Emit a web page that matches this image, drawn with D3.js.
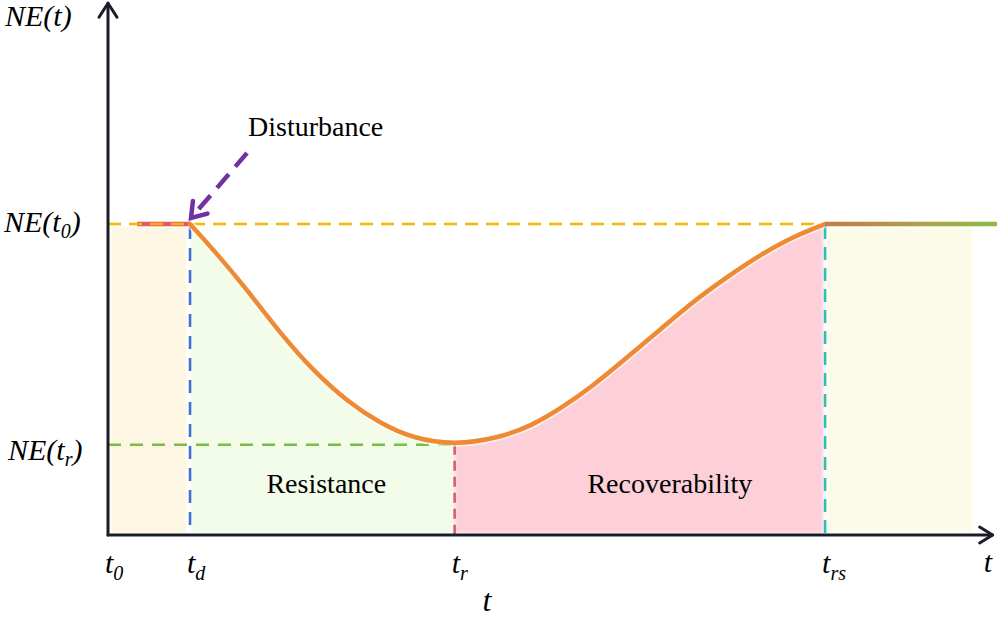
<!DOCTYPE html>
<html>
<head>
<meta charset="utf-8">
<script src="https://cdn.jsdelivr.net/npm/d3@7"></script>
<style>
  @font-face { font-family: "ChartSerif"; src: local("Liberation Serif"), local("LiberationSerif"); font-style: normal; }
  @font-face { font-family: "ChartSerif"; src: local("Liberation Serif Italic"), local("LiberationSerif-Italic"); font-style: italic; }
  svg text, svg tspan { font-family: "Liberation Serif", "ChartSerif", Tinos, serif !important; }
</style>
</head>
<body style="margin:0">
<svg id="chart" width="997" height="627" font-family="Liberation Serif"></svg>
<script>
// ---------------- data ----------------
const tickNames = ["0", "d", "r", "rs"];           // subscripts of t
const tickTimes = [0, 9.3, 39.3, 81.3];             // t0, td, tr, trs
const levelNames = ["0", "r"];                      // NE(t0), NE(tr)
const levelValues = [1.0, 0.29];
const curveT  = [9.3, 12.5, 16.0, 19.5, 23.2, 27.1, 30.8, 34.6, 39.3, 44.0, 48.0, 51.5, 55.0, 58.8, 62.6, 66.3, 70.2, 73.9, 77.7, 81.3];
const curveNE = [1.00, 0.90, 0.78, 0.65, 0.53, 0.43, 0.36, 0.31, 0.29, 0.31, 0.35, 0.41, 0.48, 0.57, 0.66, 0.75, 0.83, 0.90, 0.96, 1.00];
const phaseNames = ["Resistance", "Recoverability"];
const tMax = 100.3, neMax = 1.71;
const FONT = "Liberation Serif";

// ---------------- scales ----------------
const x = d3.scaleLinear().domain([0, 100]).range([108, 990]);
const y = d3.scaleLinear().domain([0, 1]).range([535, 224]);

const svg = d3.select("#chart");
const defs = svg.append("defs");
defs.append("filter").attr("id", "soft")
  .attr("x", "-5%").attr("y", "-5%").attr("width", "110%").attr("height", "110%")
  .append("feGaussianBlur").attr("stdDeviation", 1.6);
const grad = defs.append("linearGradient").attr("id", "tail")
  .attr("gradientUnits", "userSpaceOnUse")
  .attr("x1", x(tickTimes[3])).attr("x2", x(101)).attr("y1", 0).attr("y2", 0);
grad.append("stop").attr("offset", "0%").attr("stop-color", "#c07c4c");
grad.append("stop").attr("offset", "55%").attr("stop-color", "#aea048");
grad.append("stop").attr("offset", "100%").attr("stop-color", "#8bbf3c");

const pts = curveT.map((t, i) => [t, curveNE[i]]);
const line = d3.line().x(d => x(d[0])).y(d => y(d[1])).curve(d3.curveBasis);
const area = d3.area().x(d => x(d[0])).y0(y(0) - 2).y1(d => y(d[1])).curve(d3.curveBasis);

const [t0, td, tr, trs] = tickTimes;
defs.append("clipPath").attr("id", "clipRes").append("rect")
  .attr("x", x(td) + 1).attr("y", 0).attr("width", x(tr) - x(td) - 3).attr("height", 627);
defs.append("clipPath").attr("id", "clipRec").append("rect")
  .attr("x", x(tr)).attr("y", 0).attr("width", x(trs) - x(tr) - 2).attr("height", 627);

// ---------------- shaded regions ----------------
const shade = svg.append("g").attr("filter", "url(#soft)");
shade.append("rect")
  .attr("x", x(0.3)).attr("y", y(1) + 3)
  .attr("width", x(8.9) - x(0.3)).attr("height", y(0) - y(1) - 5)
  .attr("fill", "#fdf6e2");
shade.append("rect")
  .attr("x", x(81.6)).attr("y", y(1) + 4)
  .attr("width", x(98) - x(81.6)).attr("height", y(0) - y(1) - 7)
  .attr("fill", "#fbfbe7");
shade.append("path").datum(pts).attr("d", area)
  .attr("fill", "#f3fbe9").attr("clip-path", "url(#clipRes)");
shade.append("path").datum(pts).attr("d", area)
  .attr("fill", "#fdd0d9").attr("clip-path", "url(#clipRec)");

// ---------------- reference lines ----------------
svg.append("line")
  .attr("x1", x(3.3)).attr("x2", x(td)).attr("y1", y(1)).attr("y2", y(1))
  .attr("stroke", "#e8566c").attr("stroke-width", 4.5);
svg.append("line")
  .attr("x1", x(0)).attr("x2", x(trs)).attr("y1", y(levelValues[0])).attr("y2", y(levelValues[0]))
  .attr("stroke", "#f4b800").attr("stroke-width", 2.6).attr("stroke-dasharray", "13,8");
svg.append("line")
  .attr("x1", x(0)).attr("x2", x(tr)).attr("y1", y(levelValues[1])).attr("y2", y(levelValues[1]))
  .attr("stroke", "#76bf45").attr("stroke-width", 2.6).attr("stroke-dasharray", "13,9");
svg.append("line")
  .attr("x1", x(td)).attr("x2", x(td)).attr("y1", y(1) + 2).attr("y2", y(0))
  .attr("stroke", "#4270cf").attr("stroke-width", 2.6).attr("stroke-dasharray", "13,9");
svg.append("line")
  .attr("x1", x(tr)).attr("x2", x(tr)).attr("y1", y(levelValues[1])).attr("y2", y(0))
  .attr("stroke", "#d95e62").attr("stroke-width", 2.6).attr("stroke-dasharray", "10,6");
svg.append("line")
  .attr("x1", x(trs)).attr("x2", x(trs)).attr("y1", y(1) + 2).attr("y2", y(0))
  .attr("stroke", "#2fbfae").attr("stroke-width", 2.6).attr("stroke-dasharray", "13,8");

// ---------------- curve ----------------
svg.append("path").datum(pts).attr("d", line)
  .attr("fill", "none").attr("stroke", "#ffffff").attr("stroke-opacity", 0.6).attr("stroke-width", 8);
svg.append("path").datum(pts).attr("d", line)
  .attr("fill", "none").attr("stroke", "#ee8a33").attr("stroke-width", 4.5).attr("stroke-linecap", "round");
svg.append("line")
  .attr("x1", x(trs)).attr("x2", x(101)).attr("y1", y(1)).attr("y2", y(1))
  .attr("stroke", "url(#tail)").attr("stroke-width", 4.5);

// ---------------- axes ----------------
const axisColor = "#1b1c2b";
const ax = svg.append("g").attr("fill", "none").attr("stroke", axisColor)
  .attr("stroke-width", 3).attr("stroke-linecap", "round").attr("stroke-linejoin", "round");
ax.append("path").attr("d", `M${x(0)},${y(0)}V${y(neMax)}`);
ax.append("path").attr("d", `M${x(0)},${y(0)}H${x(tMax)}`);
ax.append("path").attr("d", `M${x(0) - 9},${y(neMax) + 14}L${x(0)},${y(neMax)}L${x(0) + 9},${y(neMax) + 14}`);
ax.append("path").attr("d", `M${x(tMax) - 13},${y(0) - 8}L${x(tMax)},${y(0)}L${x(tMax) - 13},${y(0) + 8}`);

// ---------------- disturbance arrow ----------------
const tip = [x(td) + 1, y(1) - 6];
const start = [x(td) + 57, y(1) - 71];
const dx = start[0] - tip[0], dy = start[1] - tip[1];
const len = Math.hypot(dx, dy);
const ux = dx / len, uy = dy / len;
const rot = (a) => [ux * Math.cos(a) - uy * Math.sin(a), ux * Math.sin(a) + uy * Math.cos(a)];
const l1 = rot(0.6), l2 = rot(-0.6), hl = 17;
const purple = "#7231a3";
svg.append("line")
  .attr("x1", start[0]).attr("y1", start[1]).attr("x2", tip[0] + ux * 3).attr("y2", tip[1] + uy * 3)
  .attr("stroke", purple).attr("stroke-width", 4.5).attr("stroke-dasharray", "18,10");
svg.append("path")
  .attr("d", `M${tip[0] + l1[0] * hl},${tip[1] + l1[1] * hl}L${tip[0]},${tip[1]}L${tip[0] + l2[0] * hl},${tip[1] + l2[1] * hl}`)
  .attr("fill", "none").attr("stroke", purple).attr("stroke-width", 4.5)
  .attr("stroke-linecap", "round").attr("stroke-linejoin", "miter");

// ---------------- labels ----------------
const txt = (sel) => sel.attr("font-family", FONT).style("font-family", `"${FONT}"`);

txt(svg.append("text")).attr("x", 248).attr("y", 136).attr("font-size", 28).text("Disturbance");

txt(svg.append("text")).attr("x", 5).attr("y", 26).attr("font-size", 30)
  .attr("font-style", "italic").text("NE(t)");
const ylev = txt(svg.selectAll("text.lev").data(levelNames).join("text")).attr("class", "lev")
  .attr("font-size", 30).attr("font-style", "italic")
  .attr("x", (d, i) => i === 0 ? 4 : 8)
  .attr("y", (d, i) => y(levelValues[i]) + (i === 0 ? 8 : 15));
ylev.append("tspan").text("NE(t");
ylev.append("tspan").attr("font-size", 20).attr("dy", 6).text(d => d);
ylev.append("tspan").attr("dy", -6).text(")");

const xt = txt(svg.selectAll("text.tk").data(tickNames).join("text")).attr("class", "tk")
  .attr("font-size", 30).attr("font-style", "italic")
  .attr("x", (d, i) => x(tickTimes[i]) - 3).attr("y", 573);
xt.append("tspan").text("t");
xt.append("tspan").attr("font-size", 20).attr("dy", 7).text(d => d);
txt(svg.append("text")).attr("x", x(tMax) - 9).attr("y", 572).attr("font-size", 30)
  .attr("font-style", "italic").text("t");
txt(svg.append("text")).attr("x", 487).attr("y", 611).attr("text-anchor", "middle").attr("font-size", 32)
  .attr("font-style", "italic").text("t");

txt(svg.selectAll("text.phase").data(phaseNames).join("text")).attr("class", "phase")
  .attr("x", (d, i) => i === 0 ? (x(td) + x(tr)) / 2 + 4 : (x(tr) + x(trs)) / 2 + 30)
  .attr("y", 493).attr("text-anchor", "middle").attr("font-size", 28).text(d => d);
</script>
</body>
</html>
